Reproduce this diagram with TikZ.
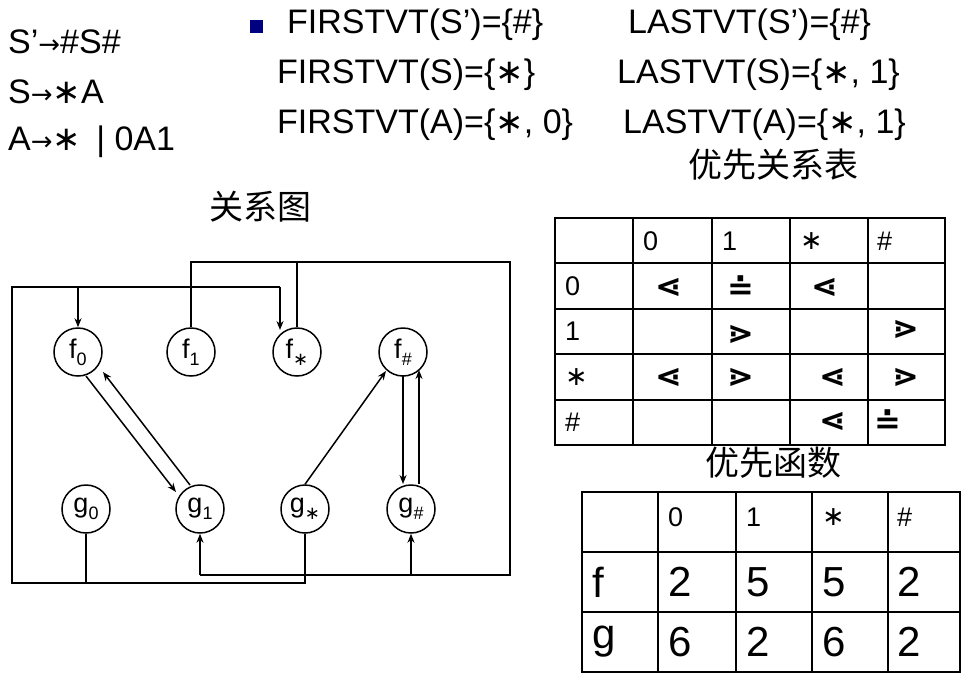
\documentclass[tikz,border=0pt]{standalone}
\usepackage{fontspec}
\setmainfont{Liberation Sans}
\newfontfamily\djv{DejaVu Sans}
\newfontfamily\cjk{Noto Sans CJK SC}
\usetikzlibrary{arrows.meta}
\newcommand{\sbs}[1]{\raisebox{-0.25em}{\fontsize{18}{18}\selectfont #1}}
\newcommand{\astk}{{\djv∗}}
\begin{document}
\begin{tikzpicture}[x=1pt,y=-1pt,
 vn/.style={circle,draw,line width=1.5pt,minimum size=48pt,inner sep=0pt,font=\fontsize{27}{28}\selectfont},
 ln/.style={line width=1.5pt},
 ar/.style={line width=1.5pt,-{Stealth[length=9pt,width=7pt]}},
 big/.style={font=\fontsize{34}{36}\selectfont,anchor=west,inner sep=0pt},
 ttl/.style={font=\cjk\fontsize{34}{36}\selectfont,inner sep=0pt},
 tb/.style={line width=2pt},
 hd/.style={font=\fontsize{27}{28}\selectfont,anchor=west,inner sep=0pt},
 rl/.style={font=\djv\bfseries\fontsize{32}{32}\selectfont,inner sep=0pt},
 dat/.style={font=\fontsize{42}{44}\selectfont,anchor=west,inner sep=0pt}]
\useasboundingbox (0,0) rectangle (974,689);
% grammar
\node[big] (g1t) at (8,42) {S’{\djv\fontsize{26}{28}\selectfont→}\#S\#};
\node[big] (g2t) at (8,92) {S{\djv\fontsize{26}{28}\selectfont→}\astk A};
\node[big] (g3t) at (8,142) {A{\djv\fontsize{26}{28}\selectfont→}\astk\ \,| 0A1};
\fill[fill={rgb,255:red,0;green,0;blue,128}] (250,20) rectangle (263,33);
\node[big] (fs1) at (287,25) {FIRSTVT(S’)=\{\#\}};
\node[big] (ls1) at (628,25) {LASTVT(S’)=\{\#\}};
\node[big] (fs2) at (277,75) {FIRSTVT(S)=\{\astk\}};
\node[big] (ls2) at (617,75) {LASTVT(S)=\{\astk, 1\}};
\node[big] (fs3) at (277,125) {FIRSTVT(A)=\{\astk, 0\}};
\node[big] (ls3) at (623,125) {LASTVT(A)=\{\astk, 1\}};
\node[ttl] (t1) at (773,165) {优先关系表};
\node[ttl] (t2) at (260,207) {关系图};
\node[ttl] (t3) at (773,463) {优先函数};
% graph
\node[vn] (f0) at (78,352) {f\sbs{0}};
\node[vn] (f1) at (191,352) {f\sbs{1}};
\node[vn] (fs) at (297,352) {f\sbs{\astk}};
\node[vn] (fh) at (403,352) {f\sbs{\#}};
\node[vn] (g0) at (86,509) {g\sbs{0}};
\node[vn] (gg1) at (200,509) {g\sbs{1}};
\node[vn] (gs) at (305,509) {g\sbs{\astk}};
\node[vn] (gh) at (411,509) {g\sbs{\#}};
\coordinate (a1) at (12,287);
\coordinate (a2) at (12,583);
\coordinate (a3) at (305,583);
\coordinate (a4) at (280,287);
\coordinate (a5) at (280,330);
\draw[ln] (gs.south) -- (a3) -- (a2) -- (a1) -- (a4);
\draw[ar] (a4) -- (a5);
\draw[ar] (78,287) -- (f0.north);
\draw[ln] (g0.south) -- (86,583);
\draw[ln] (f1.north) -- (191,262) -- (510,262) -- (510,575) -- (200,575);
\draw[ar] (200,575) -- (gg1.south);
\draw[ln] (fs.north) -- (297,262);
\draw[ar] (411,575) -- (gh.south);
\draw[ar] (86,376) -- (176,492);
\draw[ar] (190,485) -- (103,372);
\draw[ar] (gs.north) -- (386,371);
\draw[ar] (403,376) -- (403,484);
\draw[ar] (419,484) -- (419,370);
% table 1
\draw[tb] (555,218) rectangle (945,445);
\foreach \x in {633,712,790,868} \draw[tb] (\x,218) -- (\x,445);
\foreach \y in {263,309,354,400} \draw[tb] (555,\y) -- (945,\y);
\node[hd] (h1) at (643,241) {0};
\node[hd] (h2) at (722,241) {1};
\node[hd] (h3) at (800,241) {\astk};
\node[hd] (h4) at (877,241) {\#};
\node[hd] (r1) at (565,286) {0};
\node[hd] (r2) at (565,331) {1};
\node[hd] (r3) at (565,377) {\astk};
\node[hd] (r4) at (565,422) {\#};
\node[rl] (c11) at (669,288) {⋖};
\node[rl] (c12) at (741,288) {≐};
\node[rl] (c13) at (825,288) {⋖};
\node[rl] (c24) at (906,330) {⋗};
\node[rl] (c22) at (741,335) {⋗};
\node[rl] (c31) at (669,378) {⋖};
\node[rl] (c32) at (741,378) {⋗};
\node[rl] (c33) at (833,378) {⋖};
\node[rl] (c34) at (906,378) {⋗};
\node[rl] (c43) at (833,422) {⋖};
\node[rl] (c44) at (888,422) {≐};
% table 2
\draw[tb] (582,492) rectangle (960,672);
\foreach \x in {658,736,812,888} \draw[tb] (\x,492) -- (\x,672);
\foreach \y in {552,612} \draw[tb] (582,\y) -- (960,\y);
\node[hd] (k1) at (668,517) {0};
\node[hd] (k2) at (746,517) {1};
\node[hd] (k3) at (822,517) {\astk};
\node[hd] (k4) at (897,517) {\#};
\node[dat] (rf) at (592,582) {f};
\node[dat] (rg) at (592,642) {g};
\node[dat] (d11) at (668,582) {2};
\node[dat] (d12) at (746,582) {5};
\node[dat] (d13) at (822,582) {5};
\node[dat] (d14) at (897,582) {2};
\node[dat] (d21) at (668,642) {6};
\node[dat] (d22) at (746,642) {2};
\node[dat] (d23) at (822,642) {6};
\node[dat] (d24) at (897,642) {2};
\end{tikzpicture}
\end{document}
